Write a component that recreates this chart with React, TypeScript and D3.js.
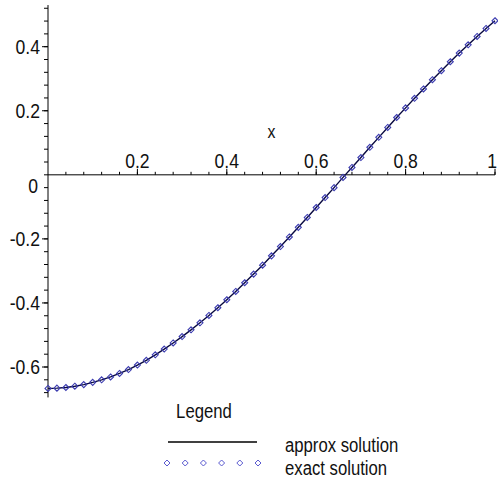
import React, { useRef, useEffect } from 'react';
import * as d3 from 'd3';

// sample points of the plot (x from 0 to 1 in 0.02 steps)
const xValues = [
  0, 0.02, 0.04, 0.06, 0.08, 0.1, 0.12, 0.14, 0.16, 0.18,
  0.2, 0.22, 0.24, 0.26, 0.28, 0.3, 0.32, 0.34, 0.36, 0.38,
  0.4, 0.42, 0.44, 0.46, 0.48, 0.5, 0.52, 0.54, 0.56, 0.58,
  0.6, 0.62, 0.64, 0.66, 0.68, 0.7, 0.72, 0.74, 0.76, 0.78,
  0.8, 0.82, 0.84, 0.86, 0.88, 0.9, 0.92, 0.94, 0.96, 0.98, 1,
];

const exactValues = [
  -0.667, -0.666, -0.664, -0.66, -0.655, -0.648, -0.64, -0.631, -0.62, -0.608,
  -0.594, -0.579, -0.562, -0.544, -0.525, -0.505, -0.484, -0.462, -0.439, -0.415,
  -0.39, -0.364, -0.337, -0.31, -0.282, -0.253, -0.224, -0.194, -0.164, -0.133,
  -0.102, -0.071, -0.04, -0.008, 0.023, 0.054, 0.086, 0.117, 0.148, 0.179,
  0.209, 0.239, 0.268, 0.297, 0.325, 0.353, 0.38, 0.406, 0.432, 0.457, 0.481,
];

const approxValues = [
  -0.667, -0.666, -0.664, -0.66, -0.655, -0.648, -0.64, -0.631, -0.62, -0.608,
  -0.594, -0.579, -0.562, -0.544, -0.525, -0.505, -0.484, -0.462, -0.439, -0.415,
  -0.39, -0.364, -0.337, -0.31, -0.282, -0.253, -0.224, -0.194, -0.164, -0.133,
  -0.102, -0.071, -0.04, -0.008, 0.023, 0.054, 0.086, 0.117, 0.148, 0.179,
  0.209, 0.239, 0.268, 0.297, 0.325, 0.353, 0.38, 0.406, 0.432, 0.457, 0.481,
];

const xTickLabels = ['0.2', '0.4', '0.6', '0.8', '1'];
const xTickValues = [0.2, 0.4, 0.6, 0.8, 1];
const yTickLabels = ['-0.6', '-0.4', '-0.2', '0.2', '0.4'];
const yTickValues = [-0.6, -0.4, -0.2, 0.2, 0.4];
const legendLabels = ['approx solution', 'exact solution'];

const FONT = '"Liberation Sans", Arial, sans-serif';

const App: React.FC = () => {
  const svgRef = useRef<SVGSVGElement>(null);

  useEffect(() => {
    if (!svgRef.current) return;
    const width = 498;
    const height = 483;

    const svg = d3.select(svgRef.current)
      .attr('width', width)
      .attr('height', height)
      .style('background', '#fff');

    svg.selectAll('*').remove();

    const x = d3.scaleLinear().domain([0, 1]).range([48, 495]);
    const y = d3.scaleLinear().domain([-0.6, 0.4]).range([367, 46.7]);

    const axes = svg.append('g').attr('stroke', '#000').attr('stroke-width', 1);

    // y axis line and ticks
    axes.append('line')
      .attr('x1', x(0)).attr('x2', x(0))
      .attr('y1', y(0.53)).attr('y2', y(-0.695));

    const yMinor = d3.range(-17, 14).map(i => i * 0.04);
    axes.selectAll('line.ymin')
      .data(yMinor)
      .enter().append('line')
      .attr('class', 'ymin')
      .attr('x1', x(0) - 4).attr('x2', x(0))
      .attr('y1', d => y(d)).attr('y2', d => y(d));
    axes.selectAll('line.ymaj')
      .data(yTickValues)
      .enter().append('line')
      .attr('class', 'ymaj')
      .attr('x1', x(0) - 6).attr('x2', x(0))
      .attr('y1', d => y(d)).attr('y2', d => y(d));

    // x axis line and ticks
    axes.append('line')
      .attr('x1', x(0)).attr('x2', x(1))
      .attr('y1', y(0)).attr('y2', y(0));

    const xMinor = d3.range(1, 26).map(i => i * 0.04);
    axes.selectAll('line.xmin')
      .data(xMinor)
      .enter().append('line')
      .attr('class', 'xmin')
      .attr('x1', d => x(d)).attr('x2', d => x(d))
      .attr('y1', y(0) - 3).attr('y2', y(0));
    axes.selectAll('line.xmaj')
      .data(xTickValues)
      .enter().append('line')
      .attr('class', 'xmaj')
      .attr('x1', d => x(d)).attr('x2', d => x(d))
      .attr('y1', y(0) - 6).attr('y2', y(0));

    const label = (g: any, tx: number, ty: number, txt: string, anchor: string, size: number) =>
      g.append('text')
        .attr('transform', `translate(${tx},${ty}) scale(0.88,1.05)`)
        .attr('text-anchor', anchor)
        .style('font-family', FONT)
        .style('font-size', `${size}px`)
        .attr('fill', '#111')
        .text(txt);

    const texts = svg.append('g');
    xTickValues.forEach((v, i) => {
      // the last label sits at the right edge, so keep it inside
      const last = i === xTickValues.length - 1;
      label(texts, last ? x(v) + 2 : x(v), y(0) - 7, xTickLabels[i], last ? 'end' : 'middle', 20);
    });
    yTickValues.forEach((v, i) => label(texts, x(0) - 8, y(v) + 7, yTickLabels[i], 'end', 20));
    label(texts, x(0) - 10, y(0) + 18, '0', 'end', 20);
    label(texts, x(0.5), y(0) - 37, 'x', 'middle', 18);

    // approx solution line
    const pts = xValues.map((v, i) => [v, approxValues[i]] as [number, number]);
    const line = d3.line<[number, number]>().x(d => x(d[0])).y(d => y(d[1]));
    svg.append('path')
      .datum(pts)
      .attr('fill', 'none')
      .attr('stroke', '#0a0a40')
      .attr('stroke-width', 1.4)
      .attr('d', line);

    // exact solution diamonds
    const diamond = (cx: number, cy: number) =>
      `M${cx},${cy - 3}L${cx + 3},${cy}L${cx},${cy + 3}L${cx - 3},${cy}Z`;
    svg.append('g')
      .selectAll('path')
      .data(xValues)
      .enter().append('path')
      .attr('d', (d, i) => diamond(x(d), y(exactValues[i])))
      .attr('fill', 'none')
      .attr('stroke', '#3c3cb0')
      .attr('stroke-width', 1.1);

    // legend
    const lg = svg.append('g');
    label(lg, 204, 418, 'Legend', 'middle', 19);
    lg.append('line')
      .attr('x1', 168).attr('x2', 257)
      .attr('y1', 442).attr('y2', 442)
      .attr('stroke', '#000').attr('stroke-width', 1.3);
    d3.range(6).forEach(i => {
      lg.append('path')
        .attr('d', diamond(167 + i * 18.2, 463))
        .attr('fill', 'none')
        .attr('stroke', '#5a5ad0')
        .attr('stroke-width', 1);
    });
    label(lg, 285, 452, legendLabels[0], 'start', 19);
    label(lg, 285, 475, legendLabels[1], 'start', 19);
  }, []);

  return (
    <div style={{ position: 'absolute', left: 0, top: 0 }}>
      <svg ref={svgRef}></svg>
    </div>
  );
};

export default App;
